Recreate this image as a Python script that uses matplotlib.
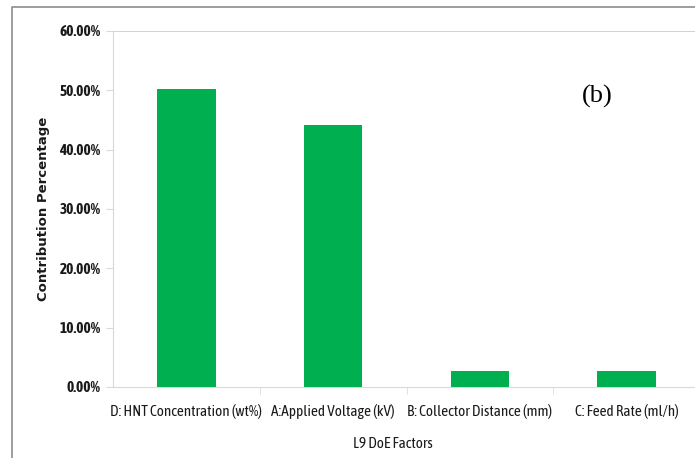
import matplotlib
matplotlib.use('Agg')
import matplotlib.pyplot as plt
import matplotlib.ticker as ticker
import numpy as np

factors = ['D: HNT Concentration (wt%)', 'A:Applied Voltage (kV)',
           'B: Collector Distance (mm)', 'C: Feed Rate (ml/h)']
contribution = [50.3, 44.1, 2.75, 2.75]
y_ticks = [0, 10, 20, 30, 40, 50, 60]

plt.rcParams['font.family'] = ['Asap Condensed', 'Lato', 'DejaVu Sans']

fig = plt.figure(figsize=(6.95, 4.58), dpi=100)
ax = fig.add_axes([113 / 695, 1 - 387 / 458, 587 / 695, 356 / 458])

ind = np.arange(len(factors))
ax.bar(ind, contribution, width=0.4, color='#00b050', zorder=3)
ax.set_xlim(-0.5, len(factors) - 0.5)
ax.set_ylim(0, 60)

# only the top gridline is visible in the original chart
ax.axhline(60, color='#b9cde5', lw=1.2, zorder=1)

ax.set_yticks(y_ticks)
ax.yaxis.set_major_formatter(ticker.FuncFormatter(lambda v, p: '%.2f%%' % v))
for lab in ax.get_yticklabels():
    lab.set_fontweight('bold')
ax.tick_params(axis='y', length=5, color='#d9d9d9', labelsize=11,
               labelcolor='#1a1a1a', pad=4)

ax.set_xticks(ind)
ax.set_xticklabels(factors, fontsize=11, color='#1a1a1a')
ax.xaxis.set_minor_locator(ticker.FixedLocator(ind[:-1] + 0.5))
ax.tick_params(axis='x', which='major', length=0, pad=12)
ax.tick_params(axis='x', which='minor', length=5, color='#d9d9d9')

for side in ['top', 'right']:
    ax.spines[side].set_visible(False)
ax.spines['left'].set_color('#d9d9d9')
ax.spines['bottom'].set_color('#d9d9d9')

ax.set_ylabel('Contribution Percentage', fontsize=9.5, fontweight='bold',
              family='DejaVu Sans', color='#1a1a1a')
ax.yaxis.set_label_coords(-0.107, 0.5)
fig.text(393 / 695, 1 - 444 / 458, 'L9 DoE Factors', fontsize=11,
         ha='center', va='center', color='#1a1a1a')
fig.text(597 / 695, 1 - 96 / 458, '(b)', fontsize=19, family='Liberation Serif',
         ha='center', va='center')

# outer frame of the chart area
frame = plt.Line2D([12 / 695, 12 / 695, 1.0], [0.0, 1 - 7 / 458, 1 - 7 / 458],
                   transform=fig.transFigure, color='#8c8c8c', lw=1.2)
fig.add_artist(frame)

fig.savefig('out.png', dpi=100)
